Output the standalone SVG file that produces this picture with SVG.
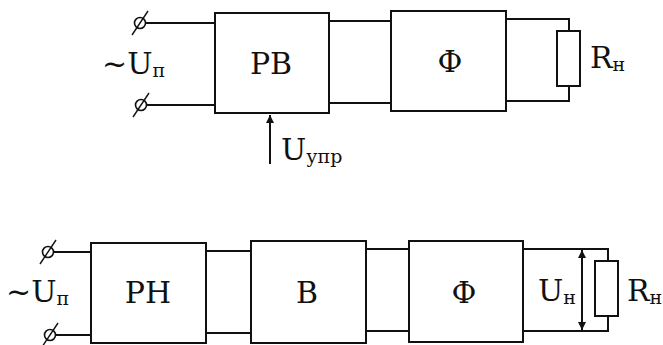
<svg xmlns="http://www.w3.org/2000/svg" width="663" height="345" viewBox="0 0 663 345">
  <style>
    .box { fill: #fff; stroke: #111; stroke-width: 2; }
    .wire { fill: none; stroke: #111; stroke-width: 2; }
    .term { fill: #fff; stroke: #111; stroke-width: 1.6; }
    .slash { stroke: #111; stroke-width: 1.4; }
    .t { font-family: 'DejaVu Serif', 'Liberation Serif', serif; font-size: 30px; fill: #111; }
    .sub { font-size: 19px; }
    .mid { text-anchor: middle; }
  </style>
  <defs>
    <g id="terminal">
      <circle class="term" cx="0" cy="0" r="5.5"/>
      <line class="slash" x1="-8" y1="12" x2="8" y2="-12"/>
    </g>
    <marker id="tip" viewBox="0 0 10 10" refX="10" refY="5" markerWidth="9" markerHeight="8" markerUnits="userSpaceOnUse" orient="auto">
      <path d="M0,0 L10,5 L0,10 Z" fill="#111"/>
    </marker>
  </defs>

  <!-- connectors -->
  <g id="connectors">
    <!-- upper circuit -->
    <path class="wire" d="M145,23 H215 M146,105 H215"/>
    <path class="wire" d="M329,21 H391 M329,103 H391"/>
    <path class="wire" d="M506,19 H569 V31 M569,86 V101 H506"/>
    <line class="wire" x1="270" y1="164" x2="270" y2="115" marker-end="url(#tip)"/>
    <!-- lower circuit -->
    <path class="wire" d="M53,252 H91 M55,335 H91"/>
    <path class="wire" d="M206,251 H251 M206,333 H251"/>
    <path class="wire" d="M366,249 H409 M366,331 H409"/>
    <path class="wire" d="M523,249 H608 V261 M608,316 V331 H523"/>
    <line class="wire" x1="582" y1="262" x2="582" y2="250" marker-end="url(#tip)"/>
    <line class="wire" x1="582" y1="318" x2="582" y2="330" marker-end="url(#tip)"/>
    <line class="wire" x1="582" y1="258" x2="582" y2="322"/>
  </g>

  <!-- upper circuit: controlled rectifier -->
  <g id="input-upper">
    <use href="#terminal" x="140" y="23"/>
    <use href="#terminal" x="141" y="105"/>
    <text class="t" x="102" y="74">~U<tspan class="sub" dy="3">п</tspan></text>
  </g>
  <g id="rv">
    <rect class="box" x="215" y="13" width="114" height="100"/>
    <text class="t mid" x="271" y="74">РВ</text>
  </g>
  <g id="filter-upper">
    <rect class="box" x="391" y="11" width="115" height="100"/>
    <text class="t mid" x="450" y="72">Ф</text>
  </g>
  <g id="load-upper">
    <rect class="box" x="557" y="31" width="23" height="55"/>
    <text class="t" x="590" y="68">R<tspan class="sub" dy="3">н</tspan></text>
  </g>
  <g id="control">
    <text class="t" x="281" y="160">U<tspan class="sub" dy="3">упр</tspan></text>
  </g>

  <!-- lower circuit: regulator, rectifier, filter -->
  <g id="input-lower">
    <use href="#terminal" x="48" y="252"/>
    <use href="#terminal" x="50" y="335"/>
    <text class="t" x="6" y="302">~U<tspan class="sub" dy="3">п</tspan></text>
  </g>
  <g id="rn">
    <rect class="box" x="91" y="243" width="115" height="100"/>
    <text class="t mid" x="148" y="303">РН</text>
  </g>
  <g id="v">
    <rect class="box" x="251" y="241" width="115" height="102"/>
    <text class="t mid" x="307" y="303">В</text>
  </g>
  <g id="filter-lower">
    <rect class="box" x="409" y="241" width="114" height="101"/>
    <text class="t mid" x="464" y="303">Ф</text>
  </g>
  <g id="load-lower">
    <rect class="box" x="595" y="261" width="23" height="55"/>
    <text class="t" x="538" y="301">U<tspan class="sub" dy="3">н</tspan></text>
    <text class="t" x="627" y="301">R<tspan class="sub" dy="3">н</tspan></text>
  </g>
</svg>
